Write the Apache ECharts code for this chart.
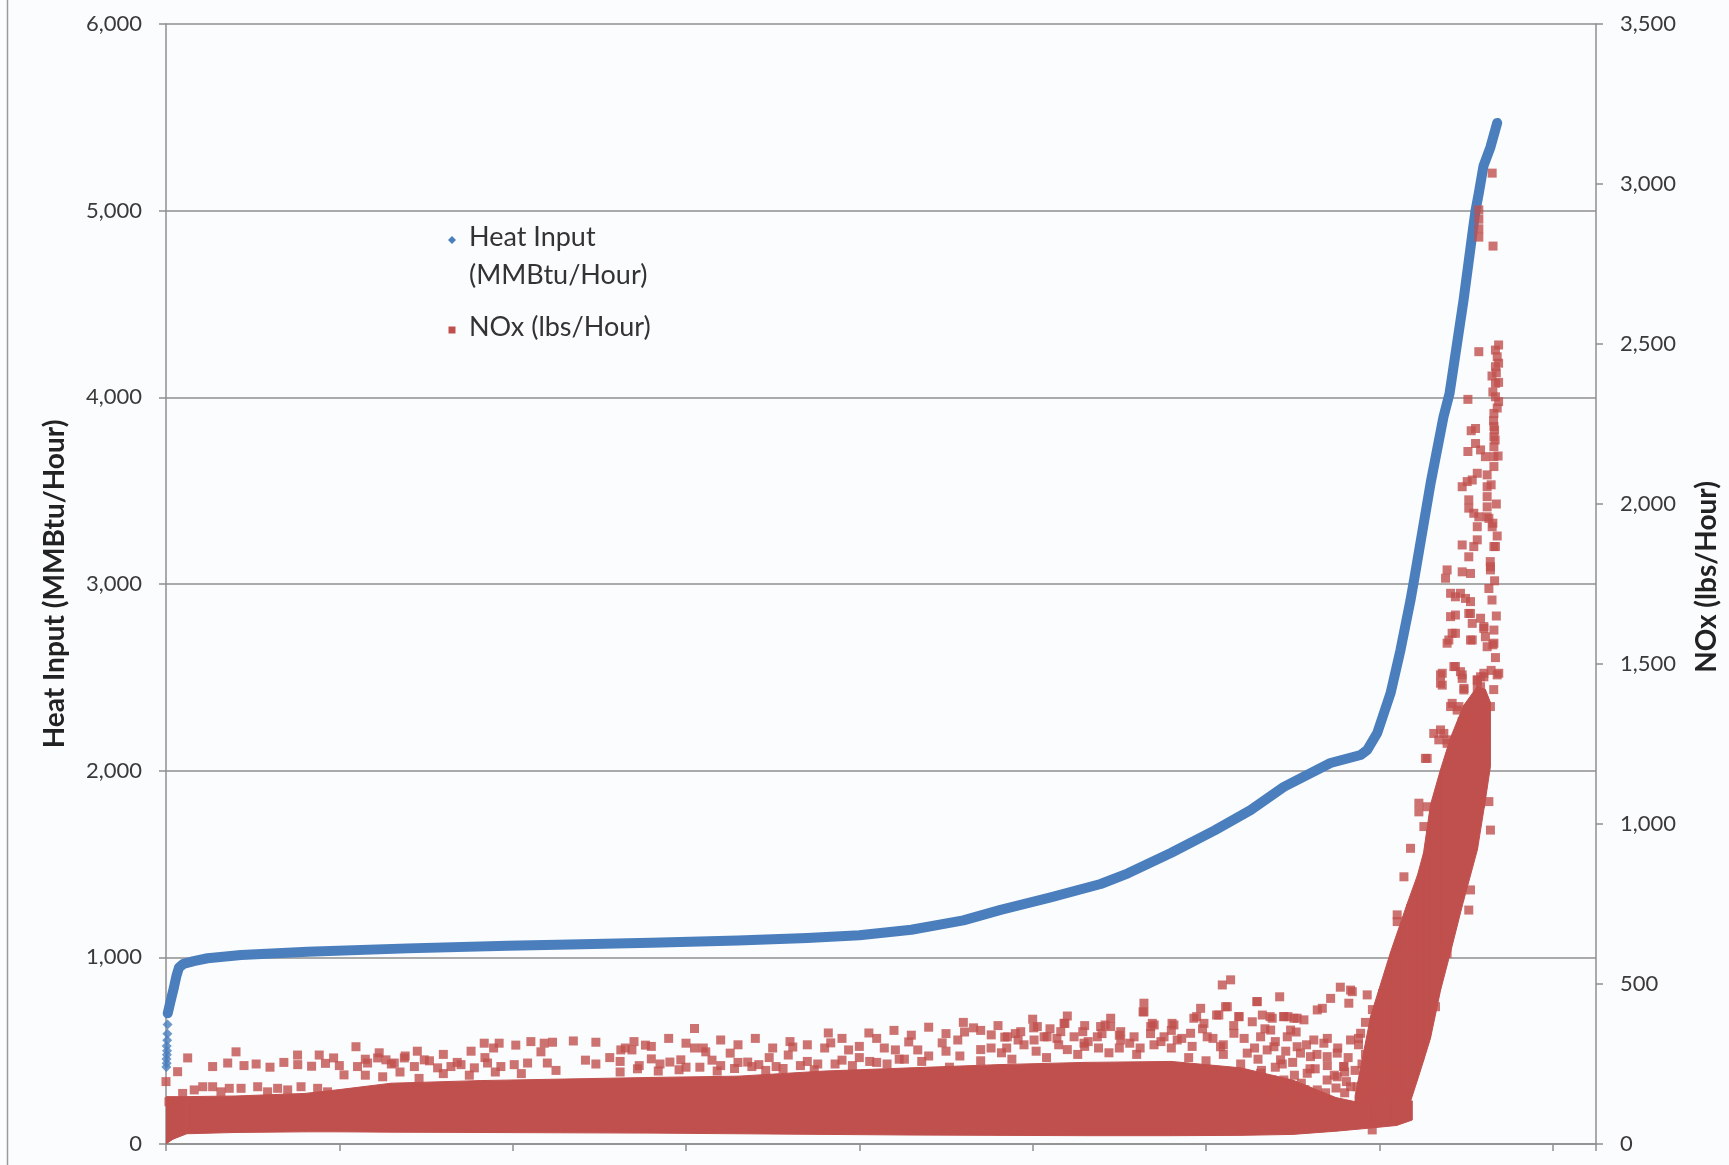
<!DOCTYPE html>
<html>
<head>
<meta charset="utf-8">
<script src="https://cdn.jsdelivr.net/npm/echarts@6/dist/echarts.min.js"></script>
<style>
  html, body { margin: 0; padding: 0; background: #fbfcfd; }
  #chart { width: 1729px; height: 1165px; }
</style>
</head>
<body>
<div id="chart"></div>
<script>
// Hours ranked by heat input; x = rank of the hour
const leftTicks = [0, 1000, 2000, 3000, 4000, 5000, 6000];
const rightTicks = [0, 500, 1000, 1500, 2000, 2500, 3000, 3500];

// Heat input curve (MMBtu/Hour)
const heatX = [10, 25, 46, 60, 75, 100, 160, 240, 433, 817, 1394, 1971, 2259, 2800, 3300, 3700, 4000, 4300, 4600, 4815, 5104, 5392, 5550, 5800, 6050, 6257, 6449, 6718, 6892, 6930, 6988, 7065, 7122, 7180, 7202, 7296, 7370, 7405, 7428, 7486, 7540, 7555, 7575, 7601, 7641, 7680];
const heatVal = [700, 760, 840, 900, 945, 965, 980, 995, 1012, 1030, 1048, 1062, 1068, 1078, 1090, 1103, 1118, 1148, 1198, 1254, 1321, 1393, 1450, 1560, 1680, 1789, 1913, 2041, 2084, 2111, 2202, 2416, 2646, 2914, 3030, 3541, 3895, 4020, 4163, 4521, 4900, 5000, 5100, 5240, 5340, 5470];
// first few low-load hours plotted as loose points
const heatLooseX = [2, 4, 3, 5, 6, 4, 7, 8, 9];
const heatLooseVal = [412, 432, 455, 478, 500, 525, 556, 590, 640];

// NOx (lbs/Hour): the dense body of the cloud, lower and upper edge
const bodyX  = [0, 40, 120, 400, 800, 1000, 1300, 1800, 2300, 2800, 3300, 3800, 4300, 4800, 5300, 5800, 6200, 6500, 6750, 6950, 7100, 7190];
const bodyLo = [0, 15, 32, 36, 38, 38, 37, 36, 35, 34, 32, 30, 28, 27, 26, 26, 27, 30, 40, 50, 58, 75];
const bodyHi = [148, 148, 148, 150, 158, 170, 190, 198, 203, 208, 212, 228, 238, 248, 255, 258, 238, 200, 145, 122, 122, 135];

// NOx: the steep rise at the highest loads
const riseX  = [6860, 6950, 7065, 7160, 7220, 7255, 7295, 7353, 7411, 7486, 7566, 7612, 7641];
const riseLo = [60, 60, 70, 100, 200, 260, 330, 480, 600, 760, 920, 1075, 1180];
const riseHi = [150, 400, 600, 750, 840, 910, 1060, 1170, 1270, 1370, 1430, 1420, 1380];

// NOx: individual hours outside the dense body
const noxX = [
  125, 67, 0, 17, 269, 356, 404, 450, 520, 600, 680, 760, 840, 920, 1000, 759, 884, 967, 1096, 1027,
  96, 163, 212, 269, 317, 365, 433, 529, 586, 644, 702, 779, 875, 932,
  1836, 1922, 2018, 2105, 2182, 2163,
  1105, 1163, 1221, 1269, 1317, 1375, 1433, 1490, 1567, 1644, 1702, 1779, 1855, 1932, 2009, 2086, 2200,
  1150, 1250, 1350, 1460, 1600, 1750, 1900, 2050, 2250,
  1150, 1230, 1300, 1380, 1450, 1520, 1600, 1680, 1760, 1840,
  2230, 2350, 2480, 1890,
  3049, 2766, 2624, 2688, 3049, 3114, 3255, 3356, 2907, 2970, 3616, 3590, 3821, 3835, 4055, 3938, 4144, 4208, 4285, 4337,
  4478, 4568, 4607, 4659, 4761, 4839, 4916, 5006, 5083, 5186, 5289, 5418, 5508, 5637, 5701, 5804, 5946, 6061, 6113, 6190, 6293, 6370, 6473,
  2420, 2480, 2560, 2620, 2730, 2800, 2850, 3000, 3150, 3200, 3300, 3420, 3480, 3520, 3700, 3760, 3900, 4000, 4100, 4230, 4400, 4500, 4700, 4850, 5150, 5300,
  2650, 2700, 2800, 2900, 3000, 3100, 3200, 3300, 3400, 3500, 3600, 3700, 3800, 3900, 4000,
  4100, 4200, 4300, 4400, 4500, 4600, 4700, 4800, 4900, 5000, 5100, 5200, 5300, 5400,
  5500, 5600, 5700, 5800, 5900, 6000, 6100, 6200, 6300, 6400, 6500, 6600, 6700, 6800, 6900,
  6775, 6425,
  4460, 4520, 4580, 4640, 4700, 4760, 4820, 4880, 4950, 5020, 5080, 5140, 5200, 5260, 5320, 5380, 5440, 5500, 5560, 5620, 5680,
  5740, 5800, 5860, 5920, 5980, 6040, 6100, 6160, 6220, 6280, 6340, 6400, 6460, 6520, 6580, 6640, 6700, 6760, 6820, 6880, 6920,
  6320, 6380, 6440, 6510, 6570, 6630, 6690, 6740, 6810, 6860, 6920,
  2620, 2720, 2840, 2960, 3080, 3180, 3280, 3380, 3460, 3560, 3660, 3740, 3860, 3960, 4060, 4160, 4260, 4360,
  6880, 6920, 6960, 6990, 7020, 7040,
  5642, 5642, 6094, 6142, 5969, 6123, 6296, 6719, 6844, 6824, 6930, 6671,
  5930, 5988, 6074, 6190, 6267, 6325, 6382, 6449, 6526,
  5450, 5392, 5181, 5027, 5815, 5690,
  6959, 7151, 7122, 7122,
  4854, 4931, 5008, 5066, 5162, 5239, 5296, 5373, 5450, 5508, 5585, 5681, 5758, 5834, 5911,
  6007, 6084, 6161, 6238, 6315, 6392, 6469, 6545, 6622, 6699,
  6757, 6795, 6834, 6892, 6949, 7007, 7045, 7103, 7142,
  6449, 6507, 6834, 6642, 6565, 6373, 6488,
  6353, 6430, 6526, 6603, 6680, 6757, 6834, 6892, 6315, 6449, 6584, 6699, 6795, 6872, 6642, 6373,
  6400, 6500, 6600, 6700, 6800, 6900, 6300, 6550, 6750,
  7411, 7526, 7603, 7661, 7661, 7526, 7439, 7391,
  7353, 7363, 7430, 7478, 7488, 7565, 7603, 7680, 7584,
  7411, 7449, 7488, 7526, 7468,
  7314, 7353, 7391, 7266,
  7228, 7228, 7257, 7276, 7180, 7142, 7103, 7103,
  7632, 7641, 7584, 7526, 7516, 7363, 7391, 7324,
  7574, 7511, 7555, 7530, 7511, 7555, 7584, 7612,
  7661, 7661, 7661, 7661, 7661, 7661,
  7670, 7670, 7670, 7670,
  7478, 7507, 7536, 7565,
  7622, 7622, 7622, 7622, 7622,
  7516, 7516, 7545, 7574, 7565,
  7632, 7651, 7661, 7670,
  7565, 7478, 7545, 7516, 7641, 7641,
  7391, 7382, 7478, 7526,
  7411, 7439, 7468, 7497, 7526, 7632,
  7439, 7516, 7536, 7584, 7603, 7612, 7622,
  7401, 7420, 7536,
  7363, 7353, 7439, 7468, 7478, 7488, 7565, 7584, 7603, 7565, 7689,
  7420, 7459, 7478, 7516,
  7343, 7372, 7391, 7276,
  7603, 7603, 7603, 7603, 7641,
  7651, 7574, 7574, 7574, 7574, 7656, 7688, 7688, 7688, 7688, 7659,
  7665, 7680, 7675, 7680, 7668, 7685, 7655,
  7650, 7660, 7645, 7670, 7655, 7675, 7650, 7665, 7640, 7680, 7655, 7675, 7645
];
const noxVal = [
  269, 226, 195, 132, 242, 253, 288, 245, 250, 240, 255, 248, 243, 252, 245, 278, 278, 269, 304, 216,
  158, 169, 179, 179, 163, 174, 174, 179, 163, 174, 169, 179, 174, 163,
  315, 315, 309, 320, 315, 288,
  242, 253, 269, 263, 253, 269, 242, 263, 238, 242, 248, 238, 253, 242, 248, 253, 253,
  215, 210, 225, 205, 220, 215, 225, 220, 230,
  265, 285, 250, 275, 290, 260, 280, 255, 290, 270,
  318, 322, 318, 300,
  361, 309, 294, 294, 300, 288, 284, 256, 256, 263, 303, 278, 347, 316, 347, 294, 300, 294, 319, 294,
  316, 325, 350, 363, 341, 334, 325, 363, 335, 377, 351, 372, 351, 413, 372, 377, 398, 403, 429, 398, 445, 398, 398,
  262, 250, 270, 258, 245, 266, 250, 240, 262, 245, 255, 248, 270, 242, 258, 250, 262, 270, 255, 265, 275, 290, 295, 300, 310, 305,
  300, 320, 305, 330, 315, 300, 325, 310, 330, 300, 320, 310, 300, 330, 305,
  330, 355, 340, 365, 345, 380, 355, 370, 345, 390, 360, 400, 370, 345,
  300, 280, 310, 300, 270, 260, 280, 250, 265, 240, 255, 235, 245, 225, 250,
  490, 460,
  210, 240, 275, 230, 260, 300, 285, 265, 310, 290, 270, 330, 295, 280, 320, 300, 285, 340, 315, 300, 345,
  320, 355, 330, 305, 360, 330, 310, 370, 330, 300, 360, 320, 290, 350, 310, 280, 330, 300, 270, 310, 280,
  230, 200, 250, 215, 170, 235, 160, 215, 195, 230, 185,
  225, 235, 228, 232, 240, 228, 236, 242, 230, 236, 245, 232, 250, 245, 258, 250, 265, 258,
  330, 380, 420, 350, 470, 400,
  440, 413, 497, 513, 424, 429, 445, 455, 476, 440, 466, 424,
  393, 377, 403, 398, 382, 403, 393, 398, 393,
  393, 367, 377, 367, 372, 377,
  44, 127, 190, 221,
  335, 351, 325, 335, 351, 335, 315, 335, 367, 325, 335, 367, 335, 325, 346,
  335, 304, 346, 284, 335, 304, 335, 284, 325, 273,
  210, 242, 179, 158, 200, 242, 179, 221, 148,
  398, 393, 481, 419, 388, 356, 356,
  294, 263, 304, 273, 315, 284, 325, 346, 221, 200, 221, 200, 242, 179, 169, 158,
  180, 140, 150, 130, 160, 140, 190, 190, 175,
  1648, 1658, 1617, 1606, 1565, 1575, 1596, 1565,
  1466, 1434, 1492, 1466, 1419, 1450, 1460, 1466, 1429,
  1367, 1356, 1315, 1304, 1304,
  1283, 1294, 1263, 1205,
  1065, 1038, 992, 1054, 924, 835, 716, 695,
  1070, 981, 1065, 794, 731, 606, 596, 429,
  2476, 2327, 2236, 2229, 2164, 2189, 2169, 2148,
  2283, 2242, 2210, 2179, 2148, 2117,
  2481, 2429, 2377, 2335,
  2054, 2070, 2075, 2096,
  2091, 2054, 2023, 1991, 1960,
  2013, 1987, 1971, 1960, 1929,
  1955, 1929, 1867, 1867,
  1888, 1872, 1867, 1835, 1804, 1794,
  1794, 1768, 1788, 1783,
  1721, 1710, 1721, 1705, 1695, 1736,
  1653, 1658, 1627, 1643, 1611, 1585, 1554,
  1575, 1596, 1575,
  1471, 1440, 1492, 1476, 1455, 1424, 1450, 1460, 1471, 1424, 1471,
  1377, 1367, 1320, 1335,
  1263, 1283, 1252, 1205,
  1380, 1340, 1300, 1280, 1367,
  3034, 2919, 2890, 2860, 2834, 2806, 2497, 2440, 2380, 2320, 2260, 2231,
  2460, 2410, 2300, 2200, 2150, 2350, 2400,
  1420, 1480, 1520, 1560, 1650, 1700, 1760, 1820, 1900, 1940, 2000, 2060, 2090
];

const BLUE = '#4a7ebd';
const RED = '#c0504d';
const AXIS = '#8f8f8f';
const FONT = 'Lato, "Open Sans", sans-serif';

const fmt = v => v.toLocaleString('en-US');

// filled band between a lower and an upper edge, one quad per segment
function band(name, xs, lo, hi) {
  return {
    type: 'custom',
    name: name,
    xAxisIndex: 0,
    yAxisIndex: 1,
    z: 3,
    silent: true,
    clip: true,
    data: xs.map((x, i) => [x, lo[i], hi[i]]),
    encode: { x: 0, y: [1, 2] },
    renderItem: function (params, api) {
      const i = params.dataIndex;
      if (i >= xs.length - 1) return null;
      const pts = [
        api.coord([xs[i], lo[i]]),
        api.coord([xs[i + 1], lo[i + 1]]),
        api.coord([xs[i + 1], hi[i + 1]]),
        api.coord([xs[i], hi[i]])
      ];
      return {
        type: 'polygon',
        shape: { points: pts },
        style: { fill: RED, stroke: RED, lineWidth: 1 }
      };
    }
  };
}

const chart = echarts.init(document.getElementById('chart'), null, { renderer: 'canvas' });

chart.setOption({
  animation: false,
  backgroundColor: '#fbfcfd',
  textStyle: { fontFamily: FONT },
  grid: { left: 166, right: 133, top: 24, bottom: 21 },
  xAxis: {
    type: 'value',
    min: 0,
    max: 8250,
    interval: 1000,
    axisLine: { show: true, lineStyle: { color: AXIS, width: 1.5 } },
    axisTick: { show: true, length: 7, lineStyle: { color: AXIS, width: 1.5 } },
    axisLabel: { show: false },
    splitLine: { show: false }
  },
  yAxis: [
    {
      type: 'value',
      position: 'left',
      min: leftTicks[0],
      max: leftTicks[leftTicks.length - 1],
      interval: 1000,
      name: 'Heat Input (MMBtu/Hour)',
      nameLocation: 'middle',
      nameRotate: 90,
      nameGap: 97,
      nameTextStyle: { fontFamily: FONT, fontSize: 28, fontWeight: 'bold', color: '#222222' },
      axisLine: { show: true, lineStyle: { color: AXIS, width: 1.5 } },
      axisTick: { show: true, length: 7, lineStyle: { color: AXIS, width: 1.5 } },
      axisLabel: { formatter: fmt, fontSize: 22, color: '#3a3a3a', margin: 24, fontFamily: FONT },
      splitLine: { show: true, lineStyle: { color: AXIS, width: 1.5 } }
    },
    {
      type: 'value',
      position: 'right',
      min: rightTicks[0],
      max: rightTicks[rightTicks.length - 1],
      interval: 500,
      name: 'NOx (lbs/Hour)',
      nameLocation: 'middle',
      nameRotate: 90,
      nameGap: 97,
      nameTextStyle: { fontFamily: FONT, fontSize: 28, fontWeight: 'bold', color: '#222222', padding: [0, 0, 0, 14] },
      axisLine: { show: true, lineStyle: { color: AXIS, width: 1.5 } },
      axisTick: { show: true, length: 7, lineStyle: { color: AXIS, width: 1.5 } },
      axisLabel: { formatter: fmt, fontSize: 22, color: '#3a3a3a', margin: 24, fontFamily: FONT },
      splitLine: { show: false }
    }
  ],
  series: [
    {
      type: 'line',
      name: 'Heat Input (MMBtu/Hour)',
      xAxisIndex: 0,
      yAxisIndex: 0,
      z: 2,
      showSymbol: false,
      silent: true,
      data: heatX.map((x, i) => [x, heatVal[i]]),
      lineStyle: { color: BLUE, width: 10, cap: 'round', join: 'round' }
    },
    {
      type: 'scatter',
      name: 'Heat Input (MMBtu/Hour)',
      xAxisIndex: 0,
      yAxisIndex: 0,
      z: 2,
      symbol: 'diamond',
      symbolSize: 10,
      silent: true,
      data: heatLooseX.map((x, i) => [x, heatLooseVal[i]]),
      itemStyle: { color: BLUE }
    },
    band('NOx body', bodyX, bodyLo, bodyHi),
    band('NOx rise', riseX, riseLo, riseHi),
    {
      type: 'scatter',
      name: 'NOx (lbs/Hour)',
      xAxisIndex: 0,
      yAxisIndex: 1,
      z: 4,
      symbol: 'rect',
      symbolSize: 9,
      silent: true,
      data: noxX.map((x, i) => [x, noxVal[i]]),
      itemStyle: { color: RED }
    }
  ],
  graphic: [
    // outer frame edge on the left
    { type: 'line', shape: { x1: 7.5, y1: 0, x2: 7.5, y2: 1165 }, style: { stroke: '#9a9a9a', lineWidth: 1.5 }, silent: true },
    // legend
    { type: 'polygon', shape: { points: [[452, 236], [456, 240], [452, 244], [448, 240]] }, style: { fill: BLUE } },
    { type: 'text', left: 469, top: 224, style: { text: 'Heat Input', font: '27px ' + FONT, fill: '#333333' } },
    { type: 'text', left: 469, top: 262, style: { text: '(MMBtu/Hour)', font: '27px ' + FONT, fill: '#333333' } },
    { type: 'rect', shape: { x: 448.5, y: 326.5, width: 7, height: 7 }, style: { fill: RED } },
    { type: 'text', left: 469, top: 314, style: { text: 'NOx (lbs/Hour)', font: '27px ' + FONT, fill: '#333333' } }
  ]
});
</script>
</body>
</html>
